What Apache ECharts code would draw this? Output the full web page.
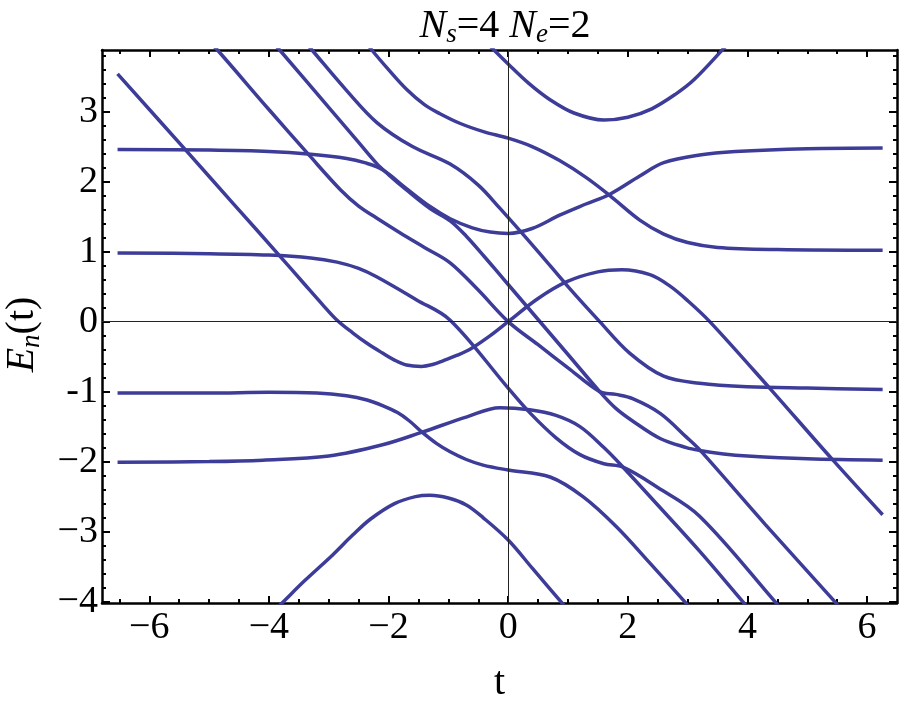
<!DOCTYPE html>
<html>
<head>
<meta charset="utf-8">
<script src="https://cdn.jsdelivr.net/npm/echarts@6/dist/echarts.min.js"></script>
<style>html,body{margin:0;padding:0;background:#fff;}#c{width:900px;height:703px;}</style>
</head>
<body>
<div id="c"></div>
<script>
// ---- data (t, E_n) ----
const xMajor = [-6, -4, -2, 0, 2, 4, 6];
const yMajor = [-4, -3, -2, -1, 0, 1, 2, 3];
const curveP = [[-0.32,3.95],[0,3.68],[0.35,3.4],[0.7,3.17],[1.1,2.98],[1.6,2.88],[2.0,2.92],[2.4,3.04],[2.8,3.25],[3.1,3.45],[3.6,3.9],[3.7,4.0]];
const curveQ = [[-2.38,4.0],[-2.28,3.88],[-2.0,3.6],[-1.7,3.32],[-1.4,3.1],[-1.14,2.97],[-0.8,2.83],[-0.4,2.71],[0,2.62],[0.4,2.5],[0.86,2.3],[1.3,2.06],[1.7,1.8],[2.2,1.45],[2.6,1.25],[3.0,1.13],[3.5,1.06],[4.5,1.03],[6.26,1.02]];
const curveR = [[-6.53,2.46],[-5,2.45],[-4,2.43],[-3.3,2.39],[-2.7,2.33],[-2.4,2.27],[-2.1,2.17],[-1.7,1.9],[-1.3,1.64],[-0.97,1.47],[-0.6,1.34],[-0.3,1.28],[0,1.26],[0.4,1.33],[0.86,1.52],[1.3,1.68],[1.7,1.82],[2.2,2.08],[2.6,2.27],[3.2,2.38],[3.8,2.43],[5,2.47],[6.26,2.48]];
const curveL2 = [[-3.95,4.0],[-3.82,3.88],[-3,3.06],[-2.5,2.56],[-2.2,2.26],[-2.0,2.1],[-1.7,1.88],[-1.3,1.61],[-0.97,1.44],[-0.7,1.22],[-0.4,0.93],[-0.14,0.67],[0,0.53],[1,-0.47],[1.53,-1.0],[1.8,-1.24],[2.08,-1.42],[2.54,-1.67],[2.98,-1.8],[3.2,-1.84],[3.6,-1.89],[4,-1.92],[5,-1.96],[6.26,-1.98]];
const curveA = [[-6.53,3.54],[-5.36,2.42],[-4.6,1.69],[-3.82,0.94],[-3.4,0.53],[-3.1,0.24],[-2.86,0.02],[-2.6,-0.16],[-2.36,-0.31],[-2.1,-0.45],[-1.9,-0.55],[-1.7,-0.62],[-1.45,-0.64],[-1.25,-0.61],[-1.09,-0.56],[-0.85,-0.48],[-0.61,-0.38],[-0.3,-0.2],[0,0],[0.5,0.33],[0.98,0.57],[1.5,0.71],[1.9,0.74],[2.37,0.67],[2.7,0.51],[3.0,0.3],[3.37,0],[4.37,-0.95],[5.43,-1.98],[6.26,-2.76]];
const curveH = [[-3.95,-4.16],[-3.78,-4.02],[-3.4,-3.7],[-2.93,-3.33],[-2.6,-3.05],[-2.3,-2.82],[-1.9,-2.6],[-1.55,-2.5],[-1.31,-2.48],[-1.0,-2.52],[-0.7,-2.62],[-0.42,-2.8],[0,-3.12],[0.41,-3.53],[0.92,-4.04],[1.05,-4.17]];
const curveL1 = [[-5.0,4.0],[-4.86,3.88],[-4,3.03],[-3.32,2.37],[-2.8,1.88],[-2.5,1.65],[-2.2,1.48],[-1.81,1.27],[-1.4,1.06],[-0.97,0.84],[-0.5,0.45],[0,0.0],[0.5,-0.33],[1.0,-0.66],[1.53,-1.0],[1.8,-1.04],[2.08,-1.1],[2.54,-1.31],[2.98,-1.65],[3.2,-1.83],[4.3,-2.9],[5.49,-4.03],[5.6,-4.14]];
const curveL3 = [[-3.4,4.0],[-3.28,3.88],[-2.7,3.3],[-2.19,2.84],[-1.6,2.5],[-0.97,2.25],[-0.5,1.95],[-0.14,1.62],[0.5,1.0],[1.0,0.5],[1.53,0.0],[2.03,-0.45],[2.6,-0.78],[3.2,-0.88],[4.0,-0.93],[5,-0.95],[6.26,-0.97]];
const curveF1 = [[-6.53,0.98],[-5,0.97],[-4,0.95],[-3.3,0.91],[-2.86,0.85],[-2.5,0.76],[-2.2,0.64],[-1.53,0.31],[-0.97,0.02],[0,-0.95],[0.36,-1.3],[0.8,-1.66],[1.2,-1.9],[1.6,-2.03],[1.92,-2.08],[2.5,-2.37],[3.2,-2.78],[4.49,-4.03],[4.6,-4.14]];
const curveFm2 = [[-6.53,-2.01],[-5,-2.0],[-4.1,-1.98],[-3,-1.92],[-2.1,-1.76],[-1.44,-1.58],[-0.69,-1.36],[-0.14,-1.23],[0.36,-1.26],[0.8,-1.34],[1.2,-1.5],[1.6,-1.8],[1.92,-2.08],[2.5,-2.62],[3.2,-3.28],[3.95,-4.03],[4.05,-4.13]];
const curveFm1 = [[-6.53,-1.02],[-5,-1.02],[-4,-1.01],[-3.2,-1.02],[-2.7,-1.06],[-2.36,-1.12],[-2.1,-1.2],[-1.85,-1.3],[-1.65,-1.42],[-1.44,-1.58],[-1.2,-1.74],[-0.97,-1.86],[-0.7,-1.97],[-0.42,-2.05],[0,-2.12],[0.7,-2.22],[1.25,-2.5],[1.81,-2.93],[2.37,-3.45],[2.98,-4.03],[3.1,-4.15]];

const curves = [curveP, curveQ, curveR, curveA, curveH, curveL1, curveL2, curveL3, curveF1, curveFm1, curveFm2];

const xMinor = [];
for (let i = -13; i <= 13; i++) { const v = i * 0.5; if (v % 2 !== 0 && v > -6.79 && v < 6.5) xMinor.push(v); }
const yMinor = [];
for (let i = -20; i <= 19; i++) { const v = Math.round(i * 2) / 10; if (Math.abs(v - Math.round(v)) > 1e-9) yMinor.push(v); }

const X_MIN = -6.79, X_MAX = 6.5, Y_MIN = -4.02, Y_MAX = 3.88;
const serif = 'Liberation Serif';
const lineCol = '#3d3d99';

function fmtMinus(v) {
  if (v === -1) return '-1';
  return v < 0 ? '\u2212' + Math.abs(v) : String(v);
}

function mkX(position, ticks, len, showLabel, showLine, name) {
  return {
    type: 'value', min: X_MIN, max: X_MAX, position: position, gridIndex: 0,
    axisLine: { show: showLine, onZero: false, lineStyle: { color: '#000', width: 2.5 } },
    axisTick: { show: true, inside: true, length: len, customValues: ticks, lineStyle: { color: '#000', width: 2 } },
    axisLabel: { show: showLabel, customValues: ticks, formatter: fmtMinus, color: '#000', fontFamily: serif, fontSize: 38, margin: 6 },
    splitLine: { show: false },
    name: name || '', nameLocation: 'middle', nameGap: 60,
    nameTextStyle: { fontFamily: serif, fontSize: 40, color: '#000' }
  };
}
function mkY(position, ticks, len, showLabel, showLine, name) {
  return {
    type: 'value', min: Y_MIN, max: Y_MAX, position: position, gridIndex: 0,
    axisLine: { show: showLine, onZero: false, lineStyle: { color: '#000', width: 2.5 } },
    axisTick: { show: true, inside: true, length: len, customValues: ticks, lineStyle: { color: '#000', width: 2 } },
    axisLabel: { show: showLabel, customValues: ticks, formatter: fmtMinus, color: '#000', fontFamily: serif, fontSize: 38, margin: 4 },
    splitLine: { show: false },
    name: name || '', nameLocation: 'middle', nameGap: 57, nameRotate: 90,
    nameTextStyle: {
      color: '#000', padding: [0, 16, 0, 0],
      rich: {
        i: { fontFamily: serif, fontStyle: 'italic', fontSize: 40, lineHeight: 46, verticalAlign: 'middle' },
        s: { fontFamily: serif, fontStyle: 'italic', fontSize: 27, lineHeight: 24, verticalAlign: 'bottom' },
        n: { fontFamily: serif, fontSize: 40, lineHeight: 46, verticalAlign: 'middle' }
      }
    }
  };
}

const series = curves.map(c => ({
  type: 'line', data: c, xAxisIndex: 0, yAxisIndex: 0, showSymbol: false, smooth: 0.35,
  clip: true, z: 3, silent: true,
  lineStyle: { color: lineCol, width: 3.5 }
}));
series.unshift({
  type: 'line', data: [], xAxisIndex: 0, yAxisIndex: 0, z: 1, silent: true,
  markLine: {
    silent: true, symbol: 'none', animation: false,
    label: { show: false },
    lineStyle: { color: '#222', width: 1, type: 'solid' },
    data: [{ xAxis: 0 }, { yAxis: 0 }]
  }
});

const chart = echarts.init(document.getElementById('c'), null, { renderer: 'canvas' });
chart.setOption({
  animation: false,
  backgroundColor: '#fff',
  title: {
    text: '{i|N}{s|s}{n|=4 }{i|N}{s|e}{n|=2}',
    left: 500, textAlign: 'center', top: -1,
    textStyle: {
      fontWeight: 'normal',
      rich: {
        i: { fontFamily: serif, fontStyle: 'italic', fontWeight: 'normal', fontSize: 40, lineHeight: 44, verticalAlign: 'middle', color: '#000' },
        s: { fontFamily: serif, fontStyle: 'italic', fontWeight: 'normal', fontSize: 27, lineHeight: 22, verticalAlign: 'bottom', color: '#000' },
        n: { fontFamily: serif, fontWeight: 'normal', fontSize: 40, lineHeight: 44, verticalAlign: 'middle', color: '#000' }
      }
    }
  },
  grid: { left: 102, right: 3, top: 50, bottom: 100, containLabel: false, outerBoundsMode: 'none' },
  xAxis: [
    mkX('bottom', xMajor, 7, true, true, 't'),
    mkX('bottom', xMinor, 4, false, false),
    mkX('top', xMajor, 7, false, true),
    mkX('top', xMinor, 4, false, false)
  ],
  yAxis: [
    mkY('left', yMajor, 8, true, true, '{i|E}{s|n}{n|(t)}'),
    mkY('left', yMinor, 4, false, false),
    mkY('right', yMajor, 8, false, true),
    mkY('right', yMinor, 4, false, false)
  ],
  series: series
});
</script>
</body>
</html>
